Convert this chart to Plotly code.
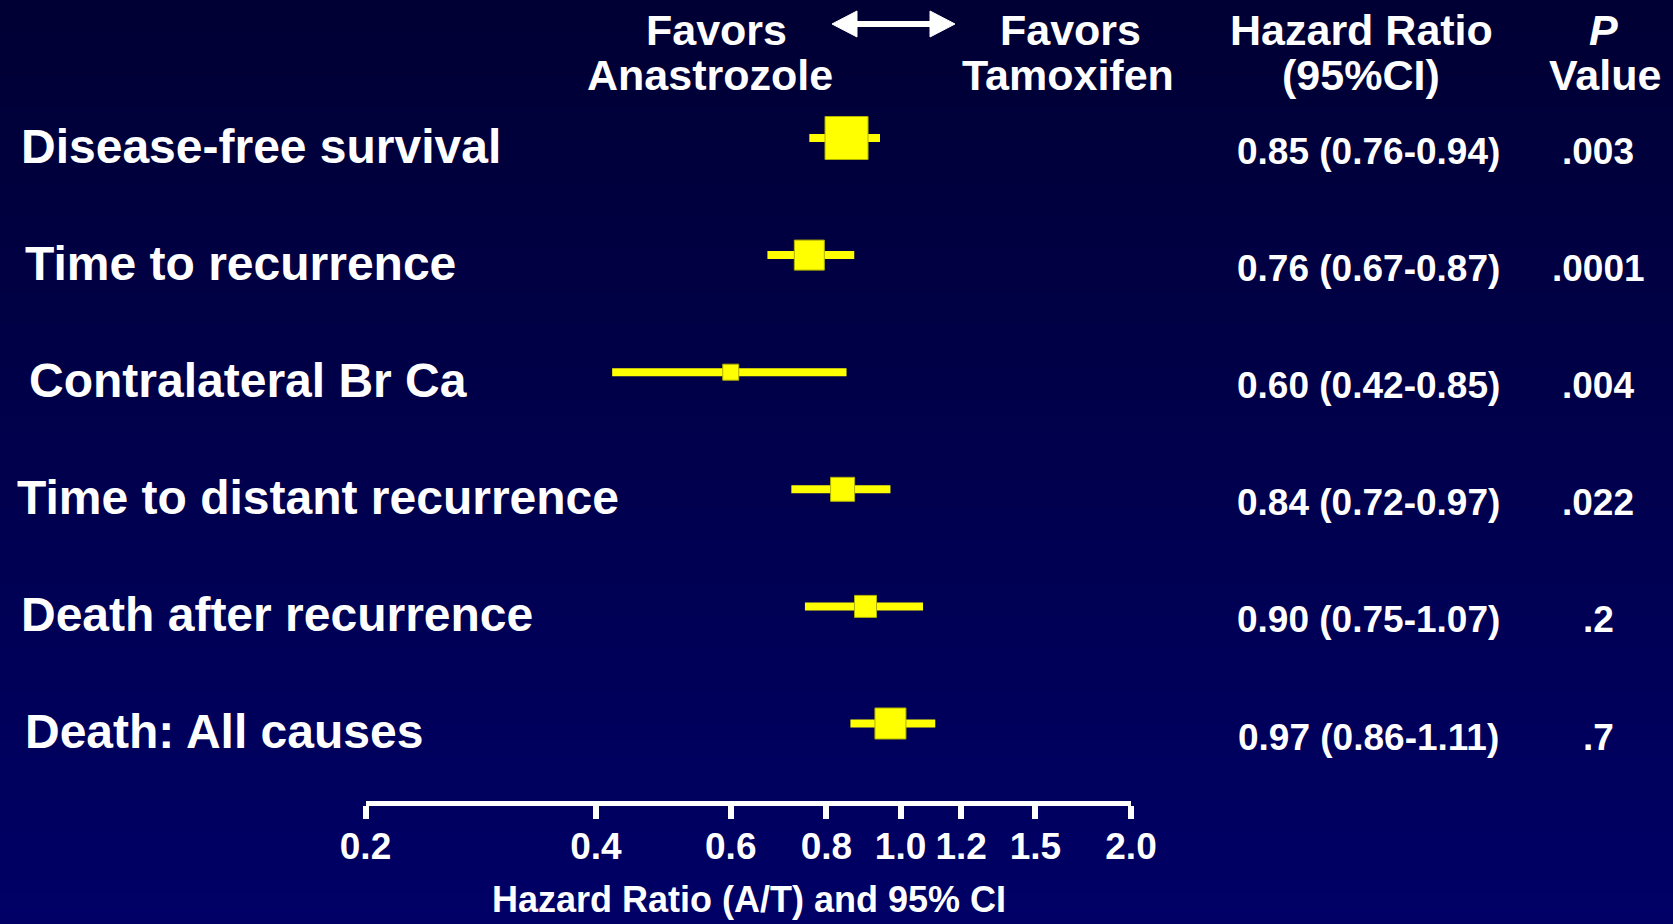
import math
import plotly.graph_objects as go

# ---- data -------------------------------------------------------------
outcomes = [
    "Disease-free survival",
    "Time to recurrence",
    "Contralateral Br Ca",
    "Time to distant recurrence",
    "Death after recurrence",
    "Death: All causes",
]
hazard_ratio = [0.85, 0.76, 0.60, 0.84, 0.90, 0.97]
ci_low = [0.76, 0.67, 0.42, 0.72, 0.75, 0.86]
ci_high = [0.94, 0.87, 0.85, 0.97, 1.07, 1.11]
p_values = [".003", ".0001", ".004", ".022", ".2", ".7"]

tick_values = [0.2, 0.4, 0.6, 0.8, 1.0, 1.2, 1.5, 2.0]
tick_labels = ["0.2", "0.4", "0.6", "0.8", "1.0", "1.2", "1.5", "2.0"]

# ---- styling ----------------------------------------------------------
W, H = 1673, 924
FONT = "Liberation Sans, Arial, Helvetica, sans-serif"
YELLOW = "#FFFF00"
box_size = [43, 30, 16, 24, 22, 31]          # marker size reflects study weight
label_left = [19, 23, 27, 15, 19, 23]        # left edge of each outcome label (px)

row_top, row_step = 138.0, 117.1            # pixel position of first row, spacing
plot_bottom = 800.5                          # pixel row of the x axis line
x_left, x_right = 365.5, 1131.0              # pixel extent of the x axis


def px_x(p):
    return p / W


def px_y(p):
    return 1 - p / H


rows = list(range(len(outcomes)))

fig = go.Figure()

# forest plot: squares with CI whiskers
fig.add_trace(
    go.Scatter(
        x=hazard_ratio,
        y=rows,
        mode="markers",
        marker=dict(symbol="square", size=box_size, color=YELLOW, opacity=1,
                    line=dict(color="#b0b000", width=1)),
        error_x=dict(
            type="data",
            symmetric=False,
            array=[h - r for h, r in zip(ci_high, hazard_ratio)],
            arrayminus=[r - l for r, l in zip(hazard_ratio, ci_low)],
            color=YELLOW,
            thickness=8,
            width=0,
        ),
        cliponaxis=False,
        hoverinfo="skip",
    )
)

# ---- background gradient (dark navy, lighter toward the bottom) --------
shapes = []
n_bands = 60
top_rgb, bot_rgb = (0, 0, 52), (0, 0, 102)
for k in range(n_bands):
    t = k / (n_bands - 1)
    c = tuple(round(a + (b - a) * t) for a, b in zip(top_rgb, bot_rgb))
    shapes.append(dict(
        type="rect", xref="paper", yref="paper", layer="below",
        x0=0, x1=1, y0=1 - (k + 1) / n_bands - 0.001, y1=1 - k / n_bands,
        fillcolor=f"rgb{c}", line=dict(width=0),
    ))

# reference line at HR = 1.0
shapes.append(dict(
    type="line", xref="x", yref="paper",
    x0=math.log10(1.0), x1=math.log10(1.0),
    y0=px_y(101), y1=px_y(792),
    line=dict(color="white", width=4, dash="15px,13px"),
))

# double-headed arrow between the two "Favors" captions
arrow_pts = [(832, 24), (857, 11), (857, 21.5), (930, 21.5), (930, 11), (955, 24),
             (930, 37), (930, 26.5), (857, 26.5), (857, 37)]
path = "M " + " L ".join(f"{px_x(x):.5f},{px_y(y):.5f}" for x, y in arrow_pts) + " Z"
shapes.append(dict(type="path", xref="paper", yref="paper", path=path,
                   fillcolor="white", line=dict(color="white", width=1)))

# ---- text -------------------------------------------------------------
ann = []


def text(x, y, s, size, anchor="center", italic=False, yref="paper", yshift=0):
    ann.append(dict(
        x=x, y=y, xref="paper", yref=yref, text=s, showarrow=False,
        xanchor=anchor, yanchor="middle", yshift=yshift,
        font=dict(family=FONT, size=size, color="white", weight="bold",
                  style="italic" if italic else "normal"),
    ))


for i, name in enumerate(outcomes):
    text(px_x(label_left[i]), i, name, 48, anchor="left", yref="y", yshift=-8)
    hr_txt = f"{hazard_ratio[i]:.2f} ({ci_low[i]:.2f}-{ci_high[i]:.2f})"
    text(px_x(1368), i, hr_txt, 37, yref="y", yshift=-13.5)
    text(px_x(1598), i, p_values[i], 37, yref="y", yshift=-13.5)

# column headers
text(px_x(716), px_y(30), "Favors", 43)
text(px_x(710), px_y(75), "Anastrozole", 43)
text(px_x(1070), px_y(30), "Favors", 43)
text(px_x(1068), px_y(75), "Tamoxifen", 43)
text(px_x(1361), px_y(30), "Hazard Ratio", 43)
text(px_x(1361), px_y(75), "(95%CI)", 43)
text(px_x(1603), px_y(30), "P", 43, italic=True)
text(px_x(1605), px_y(75), "Value", 43)

# x-axis title
text(px_x(749), px_y(899), "Hazard Ratio (A/T) and 95% CI", 36)

fig.update_layout(
    width=W, height=H,
    margin=dict(l=0, r=0, t=0, b=0, autoexpand=False),
    paper_bgcolor="#000044",
    plot_bgcolor="rgba(0,0,0,0)",
    showlegend=False,
    shapes=shapes,
    annotations=ann,
    xaxis=dict(
        type="log",
        automargin=False,
        range=[math.log10(tick_values[0]), math.log10(tick_values[-1])],
        domain=[px_x(x_left), px_x(x_right)],
        tickvals=tick_values,
        ticktext=tick_labels,
        tickfont=dict(family=FONT, size=37, color="white", weight="bold"),
        ticklabelstandoff=-4,
        showline=True, linecolor="white", linewidth=5,
        ticks="outside", ticklen=13, tickwidth=6, tickcolor="white",
        showgrid=False, zeroline=False, fixedrange=True,
    ),
    yaxis=dict(
        automargin=False,
        range=[(plot_bottom - row_top) / row_step, -row_top / row_step],
        domain=[px_y(plot_bottom), 1],
        visible=False, fixedrange=True,
    ),
)

fig.write_html("out.html")
